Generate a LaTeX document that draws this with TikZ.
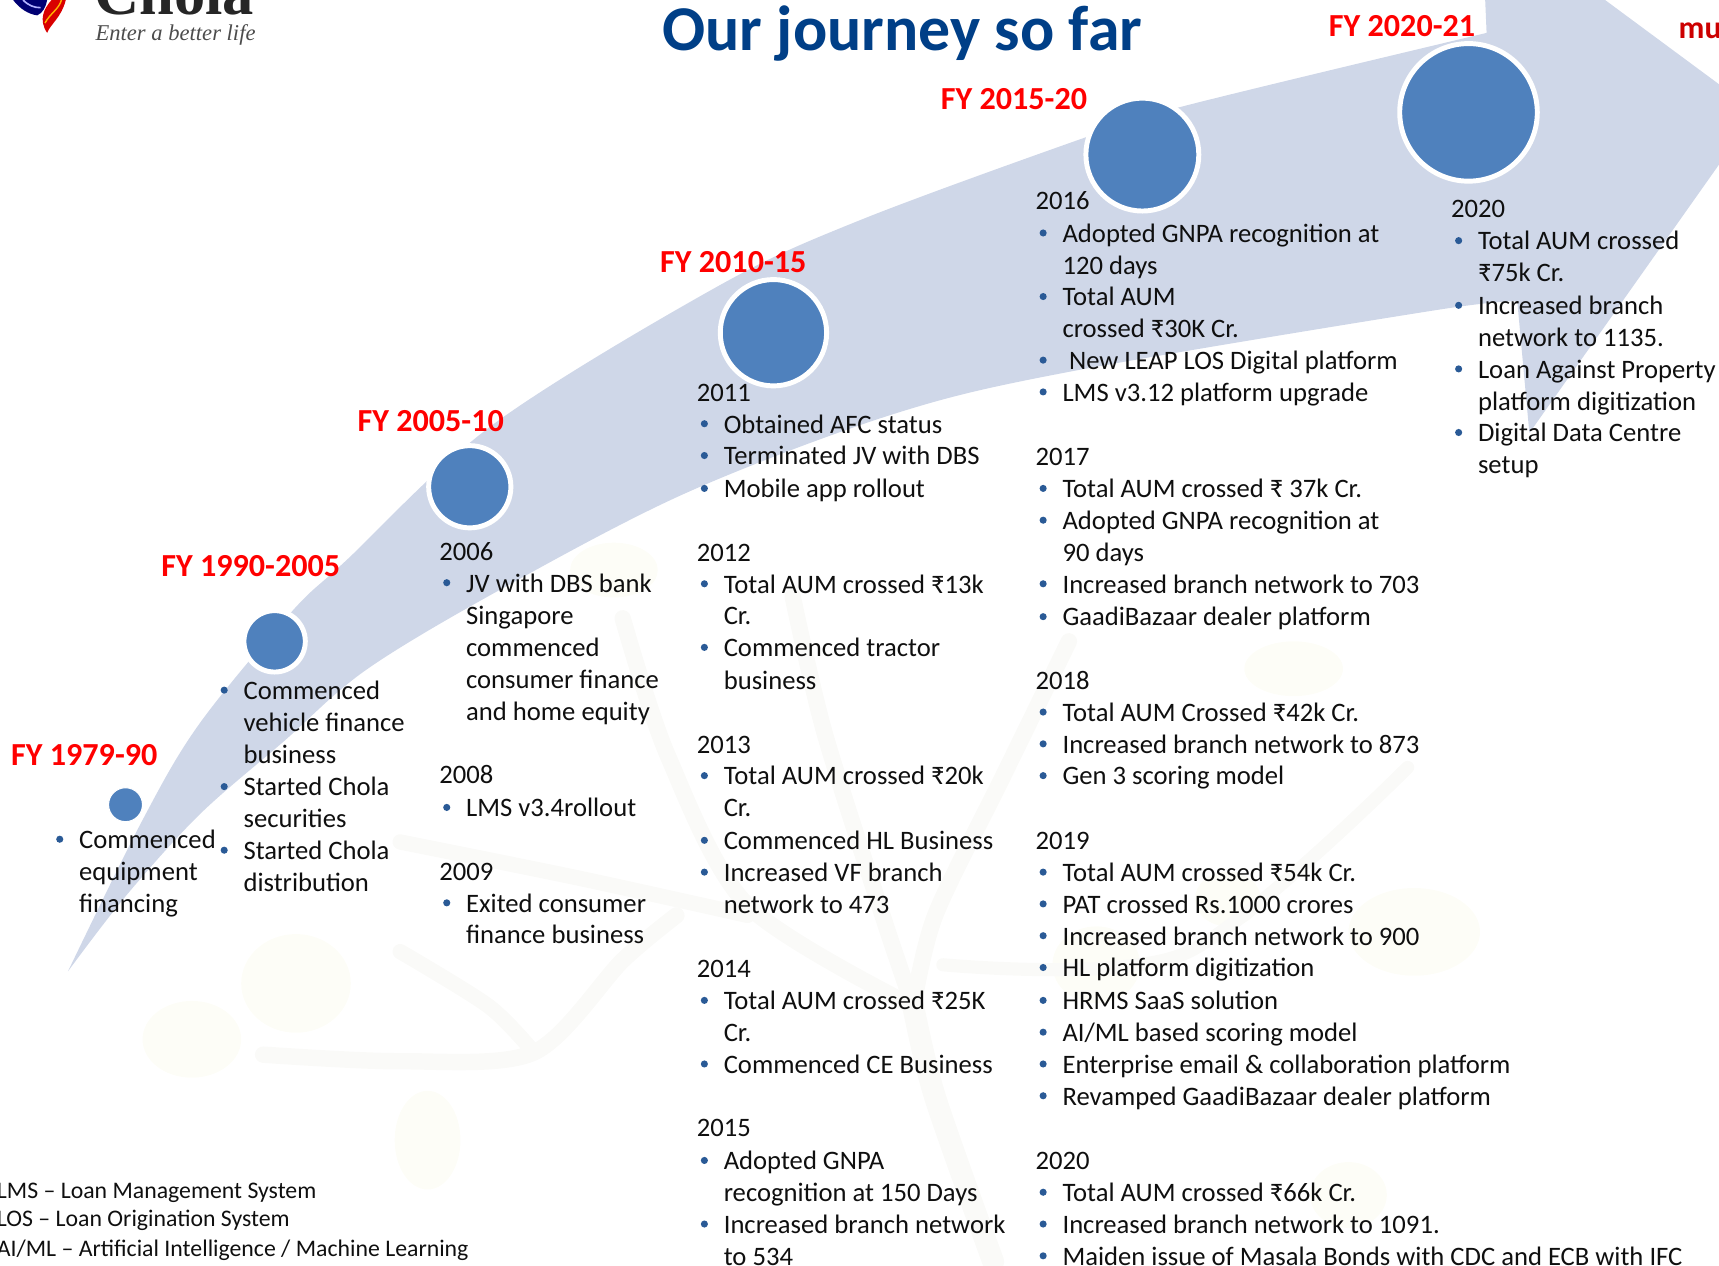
\documentclass[tikz,border=0pt]{standalone}
\usepackage{fontspec}
\setmainfont{Carlito}
\newfontfamily\logofont{Liberation Serif}
\definecolor{band}{HTML}{CFD7E8}
\definecolor{disc}{HTML}{4F81BD}
\definecolor{ttl}{HTML}{003F87}
\definecolor{bul}{HTML}{2A5A96}
\definecolor{ink}{HTML}{0F0F0F}
\definecolor{treec}{HTML}{FAFAF8}
\definecolor{leafc}{HTML}{FDFDF7}
\newcount\tn
\newcommand\Tx[3]{\global\advance\tn by 1 \node[txt] (t\the\tn) at (#1,#2+9) {#3};}
\newcommand\Bu[3]{\global\advance\tn by 1 \node[bulletdot] (b\the\tn) at (#1-17.5,#2+0.5) {}; \Tx{#1}{#2}{#3}}
\tikzset{
 txt/.style={anchor=base west,inner sep=0pt,text=ink,font=\fontsize{24.3}{29}\selectfont},
 foot/.style={anchor=base west,inner sep=0pt,text=ink,font=\fontsize{21.7}{26}\selectfont},
 fy/.style={anchor=base west,inner sep=0pt,text=red,font=\fontsize{29.3}{34}\selectfont\bfseries},
 bulletdot/.style={circle,fill=bul,inner sep=0pt,minimum size=6.5pt},
 disc/.style={circle,fill=disc,draw=white,line width=4.5pt,inner sep=0pt},
}
\begin{document}
\begin{tikzpicture}[x=1pt,y=-1pt]
\useasboundingbox (0,0) rectangle (1568,1154);
\clip (0,0) rectangle (1568,1154);
% faint tree
\begin{scope}[line cap=round]
\fill[leafc] (175,948) ellipse (45 and 35) (270,897) ellipse (50 and 45) (390,1040) ellipse (30 and 45) (560,520) ellipse (40 and 25) (1180,610) ellipse (45 and 25) (1000,880) ellipse (40 and 35) (1290,850) ellipse (60 and 40) (1230,1090) ellipse (35 and 30) (1120,820) ellipse (30 and 25);
\draw[treec,line width=20pt] plot[smooth] coordinates {(833,918) (853,1001) (906,1151)};
\draw[treec,line width=15pt] plot[smooth] coordinates {(723,544) (752,668) (805,835) (833,918)};
\draw[treec,line width=15pt] plot[smooth] coordinates {(568,564) (609,689) (682,826) (833,918)};
\draw[treec,line width=15pt] plot[smooth] coordinates {(240,962) (365,968) (487,960) (568,876) (617,835)};
\draw[treec,line width=14pt] plot[smooth] coordinates {(365,768) (528,801) (682,835)};
\draw[treec,line width=14pt] plot[smooth] coordinates {(365,868) (446,918) (487,960)};
\draw[treec,line width=15pt] plot[smooth] coordinates {(975,585) (914,710) (853,835) (833,918)};
\draw[treec,line width=12pt] plot[smooth] coordinates {(860,880) (1080,870) (1284,700)};
\end{scope}
% sweep arrow
\fill[band] plot[smooth,tension=0.55] coordinates {(62,886) (130,748) (182,660) (266,558) (316,511) (450,387) (655,261) (784,201) (991,125) (1079,97) (1356,30)}
 -- (1353,-40) -- (1410,-40) -- (1602,102) -- (1395,395) -- (1384,275)
 -- plot[smooth,tension=0.55] coordinates {(1384,275) (1309,283) (976,339) (814,378) (625,450) (456,538) (334,611) (258,677) (182,743) (115,817) (62,886)} -- cycle;
% logo
\fill[blue!45!black] (12,0) .. controls (18,8) and (26,13) .. (34,14) .. controls (39,12) and (42,6) .. (43,0) -- cycle;
\draw[white!70!blue,line width=1.5pt] (21,0) .. controls (26,5) and (31,7) .. (37,7);
\fill[red!85!black] (47,0) .. controls (40,8) and (35,18) .. (43,30) .. controls (46,22) and (56,16) .. (60,0) -- cycle;
\draw[orange!60!yellow,line width=1.3pt] (56,0) .. controls (54,8) and (46,12) .. (41,21);
\node[anchor=base west,inner sep=0pt,text=black!85,font=\logofont\fontsize{57}{57}\selectfont\bfseries] (logo) at (86,13) {Chola};
\node[anchor=base west,inner sep=0pt,text=black!70,font=\logofont\fontsize{20.6}{24}\selectfont\itshape] (tagline) at (87,37) {Enter a better life};
\node[anchor=base west,inner sep=0pt,text=red!80!black,font=\fontsize{29}{30}\selectfont\bfseries] (mu) at (1531,35) {mu};
% title
\node[anchor=base west,inner sep=0pt,text=ttl,font=\fontsize{58.2}{60}\selectfont\bfseries] (title) at (604,46) {Our journey so far};
% discs
\node[disc,minimum size=31pt,line width=1pt] (d1) at (114.5,734) {};
\node[disc,minimum size=56pt] (d2) at (250.5,585) {};
\node[disc,minimum size=75pt] (d3) at (428.5,444) {};
\node[disc,minimum size=97pt] (d4) at (705.5,303.5) {};
\node[disc,minimum size=103pt] (d5) at (1042,141) {};
\node[disc,minimum size=125.5pt] (d6) at (1339.5,102.5) {};
% FY labels
\node[fy] (f1) at (10,698) {FY 1979-90};
\node[fy] (f2) at (147,526) {FY 1990-2005};
\node[fy] (f3) at (326,394) {FY 2005-10};
\node[fy] (f4) at (602,249) {FY 2010-15};
\node[fy] (f5) at (858,100) {FY 2015-20};
\node[fy] (f6) at (1212,33) {FY 2020-21};
% column 1
\Bu{72}{765}{Commenced}\Tx{72}{794}{equipment}\Tx{72}{823}{financing}
% column 2
\Bu{222}{629}{Commenced}\Tx{222}{658}{vehicle finance}\Tx{222}{687}{business}
\Bu{222}{717}{Started Chola}\Tx{222}{746}{securities}
\Bu{222}{775}{Started Chola}\Tx{222}{804}{distribution}
% column 3
\Tx{400.5}{502}{2006}
\Bu{425}{531}{JV with DBS bank}\Tx{425}{561}{Singapore}\Tx{425}{590}{commenced}\Tx{425}{619}{consumer finance}\Tx{425}{648}{and home equity}
\Tx{400.5}{706}{2008}
\Bu{425}{736}{LMS v3.4rollout}
\Tx{400.5}{794}{2009}
\Bu{425}{823}{Exited consumer}\Tx{425}{852}{finance business}
% column 4
\Tx{635.5}{357}{2011}
\Bu{660}{386}{Obtained AFC status}
\Bu{660}{415}{Terminated JV with DBS}
\Bu{660}{445}{Mobile app rollout}
\Tx{635.5}{503}{2012}
\Bu{660}{532}{Total AUM crossed ₹13k}\Tx{660}{561}{Cr.}
\Bu{660}{590}{Commenced tractor}\Tx{660}{620}{business}
\Tx{635.5}{678}{2013}
\Bu{660}{707}{Total AUM crossed ₹20k}\Tx{660}{736}{Cr.}
\Bu{660}{766}{Commenced HL Business}
\Bu{660}{795}{Increased VF branch}\Tx{660}{824}{network to 473}
\Tx{635.5}{883}{2014}
\Bu{660}{912}{Total AUM crossed ₹25K}\Tx{660}{941}{Cr.}
\Bu{660}{970}{Commenced CE Business}
\Tx{635.5}{1028}{2015}
\Bu{660}{1058}{Adopted GNPA}\Tx{660}{1087}{recognition at 150 Days}
\Bu{660}{1116}{Increased branch network}\Tx{660}{1145}{to 534}
% column 5
\Tx{944.5}{182}{2016}
\Bu{969}{212}{Adopted GNPA recognition at}\Tx{969}{241}{120 days}
\Bu{969}{270}{Total AUM}\Tx{969}{299}{crossed ₹30K Cr.}
\Bu{969}{328}{\hspace{6pt}New LEAP LOS Digital platform}
\Bu{969}{357}{LMS v3.12 platform upgrade}
\Tx{944.5}{416}{2017}
\Bu{969}{445}{Total AUM crossed ₹ 37k Cr.}
\Bu{969}{474}{Adopted GNPA recognition at}\Tx{969}{503}{90 days}
\Bu{969}{532}{Increased branch network to 703}
\Bu{969}{562}{GaadiBazaar dealer platform}
\Tx{944.5}{620}{2018}
\Bu{969}{649}{Total AUM Crossed ₹42k Cr.}
\Bu{969}{678}{Increased branch network to 873}
\Bu{969}{707}{Gen 3 scoring model}
\Tx{944.5}{766}{2019}
\Bu{969}{795}{Total AUM crossed ₹54k Cr.}
\Bu{969}{824}{PAT crossed Rs.1000 crores}
\Bu{969}{853}{Increased branch network to 900}
\Bu{969}{882}{HL platform digitization}
\Bu{969}{912}{HRMS SaaS solution}
\Bu{969}{941}{AI/ML based scoring model}
\Bu{969}{970}{Enterprise email \& collaboration platform}
\Bu{969}{999}{Revamped GaadiBazaar dealer platform}
\Tx{944.5}{1058}{2020}
\Bu{969}{1087}{Total AUM crossed ₹66k Cr.}
\Bu{969}{1116}{Increased branch network to 1091.}
\Bu{969}{1145}{Maiden issue of Masala Bonds with CDC and ECB with IFC}
% column 6
\Tx{1323.5}{189}{2020}
\Bu{1348}{219}{Total AUM crossed}\Tx{1348}{248}{₹75k Cr.}
\Bu{1348}{278}{Increased branch}\Tx{1348}{307}{network to 1135.}
\Bu{1348}{336}{Loan Against Property}\Tx{1348}{365}{platform digitization}
\Bu{1348}{394}{Digital Data Centre}\Tx{1348}{423}{setup}
% footnotes
\node[foot] (n1) at (-3,1093) {LMS – Loan Management System};
\node[foot] (n2) at (-3,1119) {LOS – Loan Origination System};
\node[foot] (n3) at (-3,1146) {AI/ML – Artificial Intelligence / Machine Learning};
\end{tikzpicture}
\end{document}
